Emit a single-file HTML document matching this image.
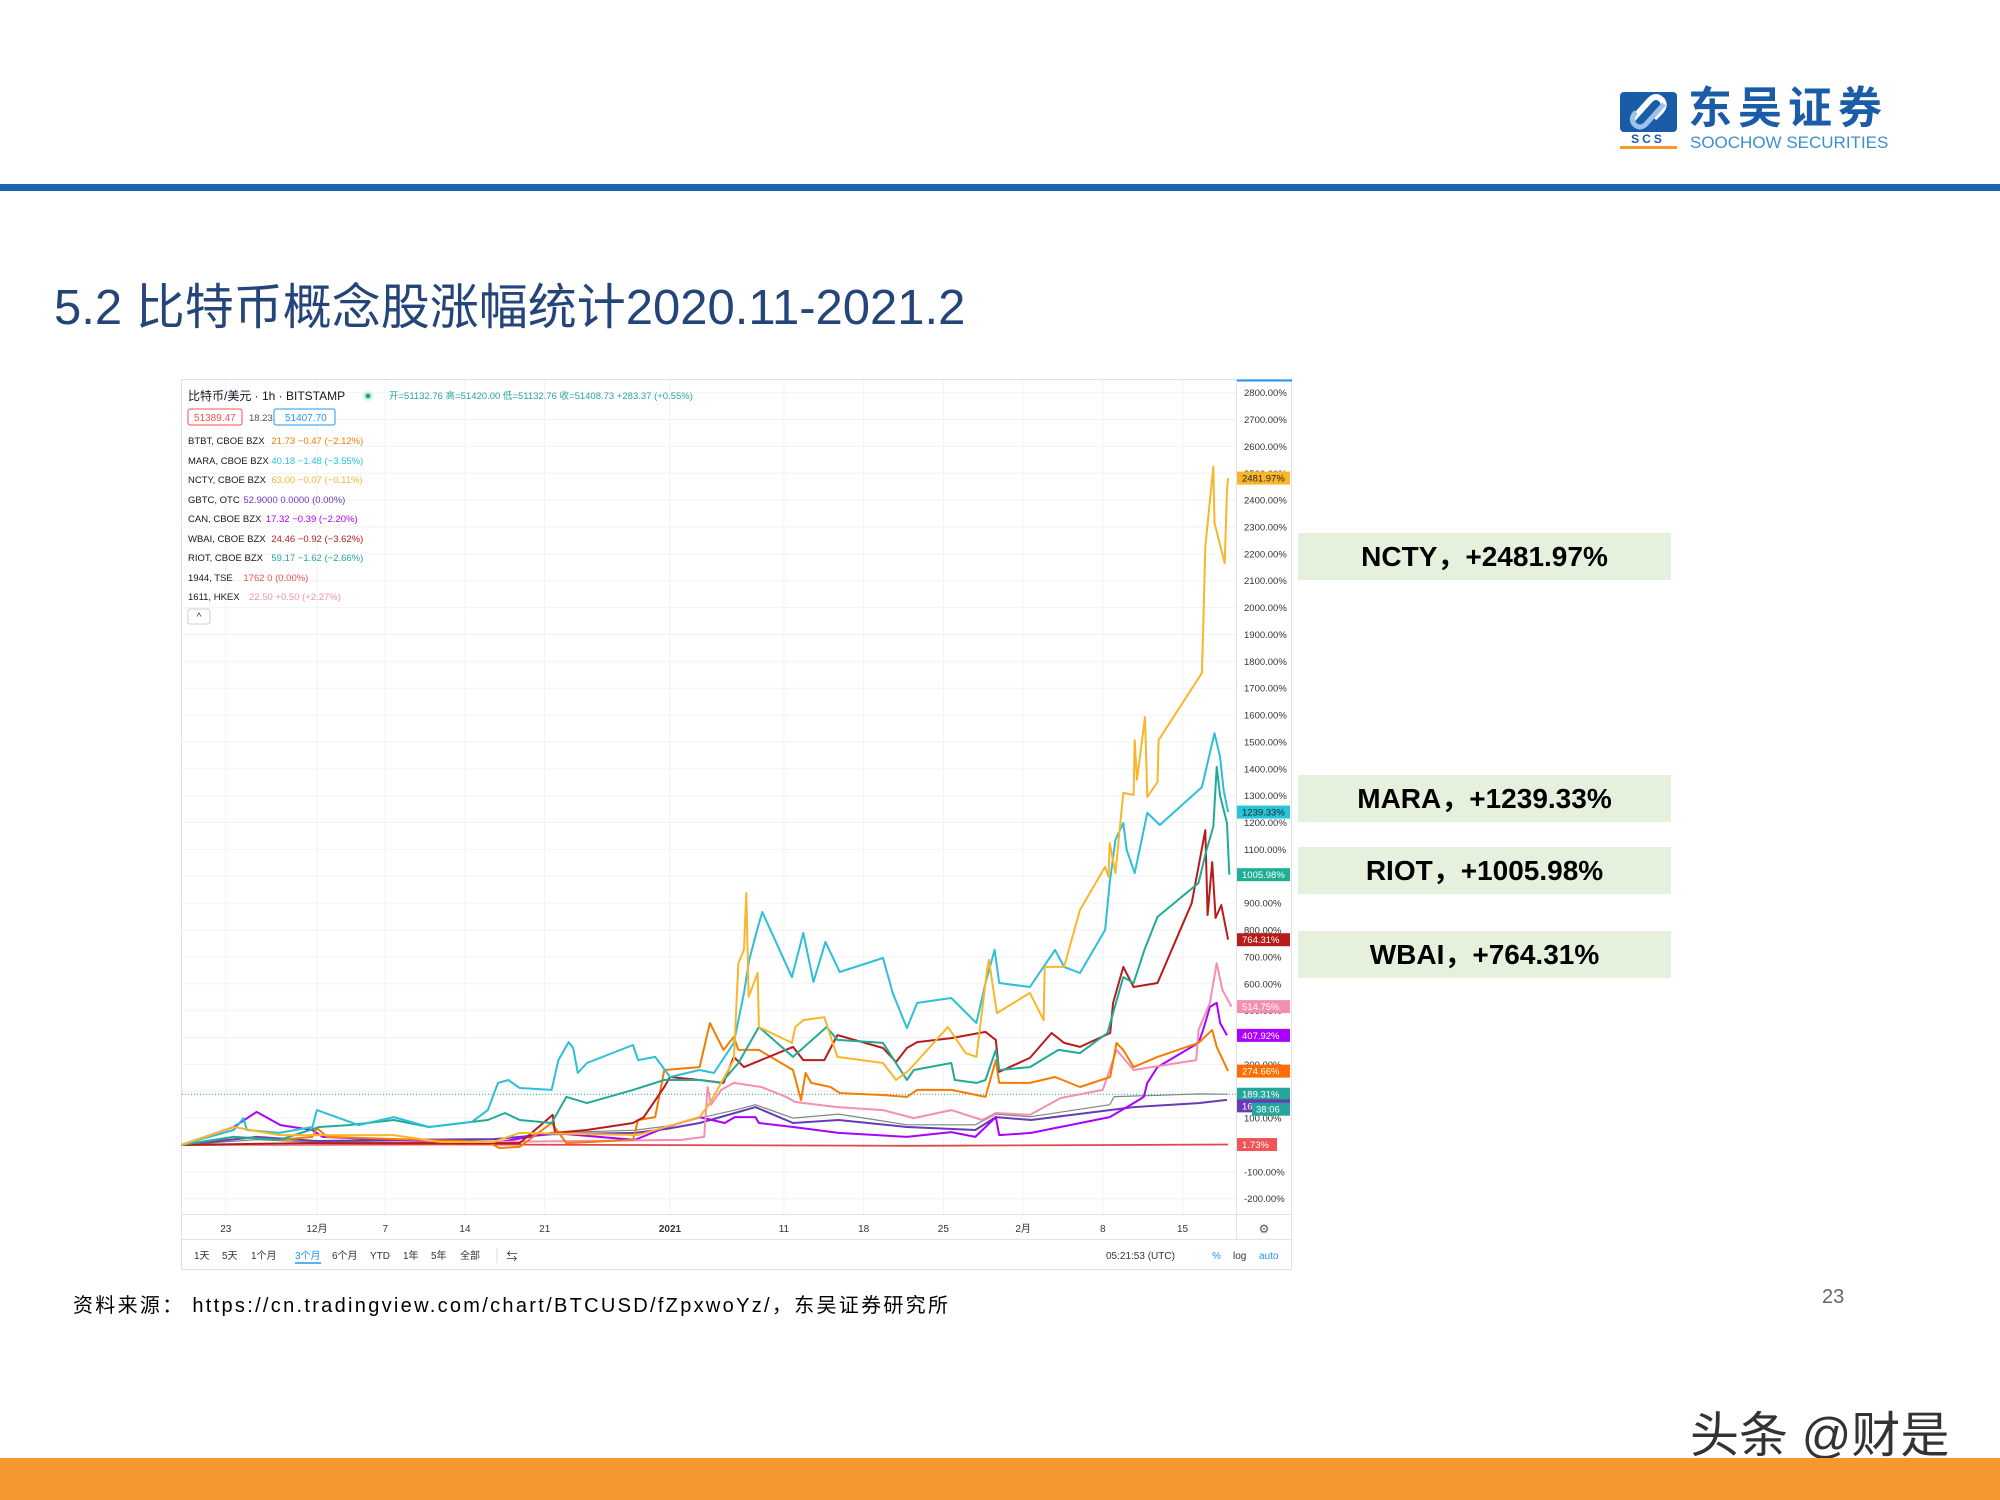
<!DOCTYPE html>
<html><head><meta charset="utf-8">
<style>
html,body{margin:0;padding:0;background:#fff;}
body{width:2000px;height:1500px;position:relative;overflow:hidden;font-family:"Liberation Sans","Noto Sans CJK SC",sans-serif;}
.abs{position:absolute;}
.callout{position:absolute;left:1298px;width:373px;height:47px;background:#e6f1dd;font-weight:bold;font-size:28px;color:#000;text-align:center;line-height:47px;}
</style></head>
<body>
<svg class="abs" style="left:1620px;top:90px" width="60" height="62">
  <rect x="0" y="2" width="57" height="40" rx="4" fill="#1a5ca8"/>
  <path d="M12 30 L30 10 Q36 4 42 10 Q46 16 40 22 L34 28" stroke="#fff" stroke-width="6" fill="none"/>
  <path d="M44 14 L26 34 Q20 40 14 34 Q10 28 16 22" stroke="#9cc3ea" stroke-width="5" fill="none"/>
  <text x="28" y="53" font-size="12" font-weight="bold" fill="#1a5ca8" text-anchor="middle" font-family="Liberation Sans" letter-spacing="3">SCS</text>
  <rect x="0" y="56" width="57" height="3" fill="#f39a2b"/>
</svg>
<div class="abs" style="left:1688px;top:84px;font-size:44px;font-weight:bold;color:#1a5ca8;letter-spacing:6px;line-height:50px;">东吴证券</div>
<div class="abs" style="left:1690px;top:133px;font-size:17px;color:#3a8fd0;">SOOCHOW SECURITIES</div>
<div class="abs" style="left:0;top:184px;width:2000px;height:7px;background:#1767b5;"></div>
<div class="abs" style="left:54px;top:268px;font-size:49px;color:#24457a;">5.2 比特币概念股涨幅统计2020.11-2021.2</div>

<div class="callout" style="top:533px;">NCTY，+2481.97%</div>
<div class="callout" style="top:775px;">MARA，+1239.33%</div>
<div class="callout" style="top:847px;">RIOT，+1005.98%</div>
<div class="callout" style="top:931px;">WBAI，+764.31%</div>

<div class="abs" style="left:73px;top:1289px;font-size:20px;letter-spacing:2.3px;color:#000;">资料来源：&nbsp;https://cn.tradingview.com/chart/BTCUSD/fZpxwoYz/，东吴证券研究所</div>
<div class="abs" style="left:1822px;top:1286px;font-size:20px;color:#666;">23</div>
<div class="abs" style="left:1690px;top:1396px;font-size:49px;color:#333;">头条 @财是</div>
<div class="abs" style="left:0;top:1458px;width:2000px;height:42px;background:#f7972f;"></div>

<svg id="chart" class="abs" style="left:0;top:0" width="2000" height="1500"></svg>

<script>
const yTicks = [2800,2700,2600,2500,2400,2300,2200,2100,2000,1900,1800,1700,1600,1500,1400,1300,1200,1100,1000,900,800,700,600,500,400,300,200,100,0,-100,-200];
const dateLabels = ["23","12月","7","14","21","2021","11","18","25","2月","8","15"];
const dateDays = [0,8,14,21,28,39,49,56,63,70,77,84];

const btcDays = [-3.9,2.7,8,14.8,23.5,28.6,35.9,38.7,41.6,44.7,46.5,49.8,53.8,59.8,65.8,67.6,70.6,77.6,78.0,82,85.4,88.0];
const btcVals = [0,20,10,15,20,45,55,70,100,130,150,100,115,75,75,115,105,150,180,185,190,189];
const tseDays = [-3.9,20,60,88];
const tseVals = [0,2,-3,1.7];
const gbtcDays = [-3.9,2.7,8,14.8,23.5,28.6,35.9,38.7,41.6,44.7,46.5,49.8,53.8,59.8,65.8,67.6,70.7,77.6,79.7,85.4,87.9];
const gbtcVals = [0,30,15,19,22,40,45,60,82,119,141,82,93,67,56,104,93,130,141,156,168];
const canDays = [-3.9,0.7,2.7,4.8,7.6,8.5,14.8,23.5,28.6,35.9,38.7,41.6,43.8,44.7,46.5,46.8,49.8,53.8,59.8,63.7,65.8,67.6,67.9,70.7,77.6,79.7,80.6,80.9,81.8,85.4,85.8,86.4,87.0,87.3,87.9];
const canVals = [0,67,123,74,56,30,19,7,45,19,67,104,82,104,104,82,67,45,30,48,30,104,37,45,104,156,179,231,290,380,428,514,529,454,408];
const hkexDays = [-3.9,20,40,42.0,42.3,42.6,43.5,44.6,47,49.2,50,53.7,57.7,60.4,63.7,66.4,67.6,70.6,73.3,77.0,78.2,79.7,85.2,85.4,86.4,87.0,87.5,88.3];
const hkexVals = [0,10,19,30,216,150,205,231,216,179,160,141,130,100,130,93,119,112,175,205,354,279,316,428,529,677,577,515];
const btbtDays = [-3.9,0.7,4.7,7.6,8.0,8.9,23.0,24.0,25.8,28.6,29.9,35.75,36.2,37.7,38.5,41.6,42.5,43.7,44.6,45.0,46.8,49.8,50.5,50.9,51.4,53.1,53.9,57.7,59.8,60.7,63.7,66.7,67.6,67.9,70.6,72.8,75.0,77.65,78.2,78.8,79.7,81.8,85.4,86.6,87.0,88.0];
const btbtVals = [0,30,19,30,63,30,11,-11,-7,82,7,19,93,104,279,290,454,354,402,354,354,279,167,268,231,216,193,186,179,205,205,179,316,231,231,253,216,253,380,354,290,328,380,428,365,275];
const wbaiDays = [-3.9,7.3,25.8,28.7,28.9,31.7,35.75,36.7,38.5,39.0,41.6,43.7,44.6,45.5,49.8,50.7,52.55,53.7,57.7,58.85,59.8,60.7,63.7,66.7,67.6,67.9,70.6,72.5,73.6,75.0,77.65,77.9,78.8,79.7,81.8,84.8,86.0,86.2,86.6,86.9,87.4,88.0];
const wbaiVals = [0,7,7,112,45,56,82,104,216,253,242,231,328,290,365,316,316,409,361,309,361,383,398,421,391,272,324,417,380,365,417,529,663,588,603,900,1172,856,1053,845,893,764];
const riotDays = [-3.9,0.7,4.7,8.2,10.8,14.75,17.85,23.0,24.5,25.8,28.6,29.9,31.7,35.75,38.5,41.6,43.5,45.0,46.8,49.8,52.75,53.7,57.7,59.8,60.4,63.7,64.0,65.9,66.7,67.6,67.9,70.6,73.1,75.0,77.4,78.8,79.7,80.65,81.8,85.4,86.1,86.7,87.0,87.3,87.9,88.1];
const riotVals = [0,30,19,67,74,93,67,93,119,93,82,179,156,205,242,242,231,305,439,328,439,391,380,242,279,305,242,231,242,354,279,290,354,342,417,625,603,726,849,975,1098,1184,1407,1300,1198,1006];
const maraDays = [-3.9,-2.4,0.7,1.55,1.85,4.7,7.6,8.0,11.65,14.75,17.85,21.6,23.0,23.9,24.8,25.8,28.6,29.2,30.1,30.5,30.9,31.7,35.75,36.2,37.7,39.0,41.6,42.85,44.6,45.5,45.95,46.65,47.1,49.7,50.7,51.6,52.65,53.9,57.7,58.55,59.8,60.7,63.7,65.9,66.7,67.5,67.9,70.6,72.8,73.6,75.0,77.2,77.6,78.1,78.8,79.1,79.8,80.9,82.0,85.7,86.8,87.3,87.6,88.0];
const maraVals = [0,19,56,100,56,45,67,130,74,104,67,86,130,231,242,212,205,316,383,361,268,305,372,316,328,253,279,268,380,566,689,800,867,625,789,607,756,644,696,566,435,529,547,454,603,726,603,588,726,663,640,800,975,1135,1198,1098,1012,1236,1191,1332,1533,1444,1321,1239];
const nctyDays = [-3.9,0.7,4.7,14.75,18.8,23.5,25.8,36.2,41.6,42.5,44.6,45.0,45.5,45.7,45.9,46.7,46.8,49.7,50.0,50.7,52.55,53.7,57.7,58.85,60.0,63.4,64.95,65.9,66.8,67.0,67.7,70.6,71.8,71.9,73.6,75.0,77.2,77.5,77.6,78.1,78.8,79.7,79.8,80.0,80.7,80.9,81.8,81.9,85.7,85.8,86.0,86.7,86.8,87.7,87.9,88.0];
const nctyVals = [0,67,37,37,11,11,45,37,104,156,316,677,726,938,551,640,439,380,439,465,476,328,305,242,279,439,342,328,640,689,491,566,465,663,663,875,1035,998,1124,1012,1310,1303,1507,1359,1593,1295,1351,1507,1757,1906,2226,2524,2315,2166,2438,2482];

const endLabels = ["2481.97%","1239.33%","1005.98%","764.31%","514.75%","407.92%","274.66%","189.31%","167.58%","1.73%"];

const NS="http://www.w3.org/2000/svg";
const svg=document.getElementById('chart');
function xOf(d){return 225.8+d*11.39;}
function yOf(p){return 1145-p*0.2687;}
function mk(tag,attrs,parent){const e=document.createElementNS(NS,tag);for(const k in attrs)e.setAttribute(k,attrs[k]);(parent||svg).appendChild(e);return e;}
function txt(x,y,s,attrs,parent){const e=mk('text',Object.assign({x:x,y:y},attrs),parent);e.textContent=s;return e;}

const frame=mk('rect',{x:181.5,y:379.5,width:1110,height:890,fill:'#fff',stroke:'#dfe1e5','stroke-width':1});


yTicks.forEach(t=>{
  const l=mk('line',{x1:182,x2:1236,y1:yOf(t),y2:yOf(t),stroke:'#f0f2f5','stroke-width':1});
  
  
});
dateDays.forEach(d=>{
  const l=mk('line',{x1:xOf(d),x2:xOf(d),y1:380,y2:1214,stroke:'#f0f2f5','stroke-width':1});
  
  
});
mk('line',{x1:1236.5,x2:1236.5,y1:380,y2:1239,stroke:'#e0e3eb'});
mk('line',{x1:182,x2:1291,y1:1214.5,y2:1214.5,stroke:'#e0e3eb'});
mk('line',{x1:182,x2:1291,y1:1239.5,y2:1239.5,stroke:'#e0e3eb'});
mk('line',{x1:1237,x2:1292,y1:380.5,y2:380.5,stroke:'#2196f3','stroke-width':2});

yTicks.forEach(t=>{
  const e=txt(1244,yOf(t)+3.5,t.toFixed(2)+'%',{'font-size':9.5,fill:'#333','font-family':'Liberation Sans'});
  
  
});
dateLabels.forEach((s,i)=>{
  const e=txt(xOf(dateDays[i]),1232,s,{'font-size':10,fill:'#333','text-anchor':'middle','font-weight':s==='2021'?'bold':'normal','font-family':'Liberation Sans, Noto Sans CJK SC, sans-serif'});
  
  
});
const gear=txt(1264,1233,'⚙',{'font-size':12,fill:'#555','text-anchor':'middle'});



const series=[
 {n:'btc',d:btcDays,v:btcVals,c:'#7a8a80',w:1.2},
 {n:'tse-1944',d:tseDays,v:tseVals,c:'#e0484a',w:1.8},
 {n:'gbtc',d:gbtcDays,v:gbtcVals,c:'#673ab7',w:2},
 {n:'can',d:canDays,v:canVals,c:'#aa00ff',w:2},
 {n:'hkex-1611',d:hkexDays,v:hkexVals,c:'#f48fb1',w:2},
 {n:'btbt',d:btbtDays,v:btbtVals,c:'#f57c00',w:2},
 {n:'wbai',d:wbaiDays,v:wbaiVals,c:'#b71c1c',w:2},
 {n:'riot',d:riotDays,v:riotVals,c:'#22ab94',w:2},
 {n:'mara',d:maraDays,v:maraVals,c:'#2cbfd6',w:2},
 {n:'ncty',d:nctyDays,v:nctyVals,c:'#f9b62b',w:2}
];
const btcLast=btcVals[btcVals.length-1];
const dl=mk('line',{x1:182,x2:1236,y1:yOf(btcLast),y2:yOf(btcLast),stroke:'#26a69a','stroke-width':1,'stroke-dasharray':'1,2'});


series.forEach(s=>{
  const pts=s.d.map((d,i)=>xOf(d).toFixed(1)+','+yOf(s.v[i]).toFixed(1)).join(' ');
  const p=mk('polyline',{points:pts,fill:'none',stroke:s.c,'stroke-width':s.w,'stroke-linejoin':'round'});
  
  
});

const labelSeries=[
 {v:nctyVals,c:'#f9b62b',t:'#222'},{v:maraVals,c:'#26c6da',t:'#222'},{v:riotVals,c:'#1fae96',t:'#fff'},
 {v:wbaiVals,c:'#b71c1c',t:'#fff'},{v:hkexVals,c:'#f48fb1',t:'#fff'},{v:canVals,c:'#aa00ff',t:'#fff'},
 {v:btbtVals,c:'#ff6d00',t:'#fff'},{v:btcVals,c:'#26a69a',t:'#fff'},{v:gbtcVals,c:'#673ab7',t:'#fff'},{v:tseVals,c:'#f05454',t:'#fff'}
];
labelSeries.forEach((s,i)=>{
  let y=yOf(s.v[s.v.length-1]);
  if(i===8) y+=6;
  const g=mk('g',{});
  
  
  mk('rect',{x:1237,y:y-6.5,width:i===9?40:53,height:13,fill:s.c},g);
  txt(1242,y+3.5,endLabels[i],{'font-size':9.5,fill:s.t,'font-family':'Liberation Sans'},g);
});
{
  const y=yOf(btcLast)+15;
  const g=mk('g',{});
  
  
  mk('rect',{x:1252,y:y-6.5,width:38,height:13,fill:'#26a69a'},g);
  txt(1256,y+3.5,'38:06',{'font-size':9.5,fill:'#fff'},g);
}

const lf='Liberation Sans, Noto Sans CJK SC, sans-serif';
const t1=txt(188,400,'比特币/美元 · 1h · BITSTAMP',{'font-size':12,fill:'#131722','font-family':lf});


mk('circle',{cx:368,cy:396,r:5,fill:'#d6f0ea'});
mk('circle',{cx:368,cy:396,r:2.5,fill:'#26a69a'});
const ohlc=txt(389,399,'开=51132.76 高=51420.00 低=51132.76 收=51408.73 +283.37 (+0.55%)',{'font-size':9.5,fill:'#26a69a','font-family':lf});


const b1=mk('g',{});
mk('rect',{x:188,y:409,width:54,height:16,rx:2,fill:'#fff',stroke:'#ef5350'},b1);
txt(194,421,'51389.47',{'font-size':10,fill:'#ef5350'},b1);
txt(249,421,'18.23',{'font-size':9.5,fill:'#555'},svg);
const b2=mk('g',{});
mk('rect',{x:274,y:409,width:61,height:16,rx:2,fill:'#fff',stroke:'#2196f3'},b2);
txt(285,421,'51407.70',{'font-size':10,fill:'#2196f3'},b2);

const legNames=["BTBT, CBOE BZX","MARA, CBOE BZX","NCTY, CBOE BZX","GBTC, OTC","CAN, CBOE BZX","WBAI, CBOE BZX","RIOT, CBOE BZX","1944, TSE","1611, HKEX"];
const legVals=["21.73 −0.47 (−2.12%)","40.18 −1.48 (−3.55%)","63.00 −0.07 (−0.11%)","52.9000 0.0000 (0.00%)","17.32 −0.39 (−2.20%)","24.46 −0.92 (−3.62%)","59.17 −1.62 (−2.66%)","1762 0 (0.00%)","22.50 +0.50 (+2.27%)"];
const legColors=['#f57c00','#26c6da','#f9b62b','#673ab7','#aa00ff','#b71c1c','#26a69a','#ef5350','#f48fb1'];
const legY=[444,464,483,503,522,542,561,581,600];
legNames.forEach((n,i)=>{
  const g=mk('g',{});
  
  
  txt(188,legY[i],n,{'font-size':9.5,fill:'#131722','font-family':lf},g);
  const w=n.length*5.6+5;
  txt(188+w,legY[i],legVals[i],{'font-size':9.5,fill:legColors[i],'font-family':lf},g);
});
const cb=mk('g',{});
mk('rect',{x:188,y:609,width:22,height:15,rx:2,fill:'#fff',stroke:'#ccc'},cb);
txt(199,620,'^',{'font-size':10,fill:'#333','text-anchor':'middle'},cb);

const ranges=["1天","5天","1个月","3个月","6个月","YTD","1年","5年","全部"];
const rangeX=[194,222,251,295,332,370,403,431,460];
ranges.forEach((r,i)=>{
  const e=txt(rangeX[i],1259,r,{'font-size':10,fill:r==='3个月'?'#2196f3':'#333','font-family':lf});
  
  
});
mk('line',{x1:295,x2:321,y1:1263,y2:1263,stroke:'#2196f3','stroke-width':1.5});
mk('line',{x1:497,x2:497,y1:1248,y2:1263,stroke:'#ddd'});
const gt=txt(512,1260,'⇆',{'font-size':11,fill:'#333','text-anchor':'middle'});

const clk=txt(1106,1259,'05:21:53 (UTC)',{'font-size':10,fill:'#333','font-family':lf});

[['%',1212,'#2196f3','percent-toggle'],['log',1233,'#333','log-toggle'],['auto',1259,'#2196f3','auto-toggle']].forEach(a=>{
  const e=txt(a[1],1259,a[0],{'font-size':10,fill:a[2],'font-family':lf});
  
  
});
</script>
</body></html>
